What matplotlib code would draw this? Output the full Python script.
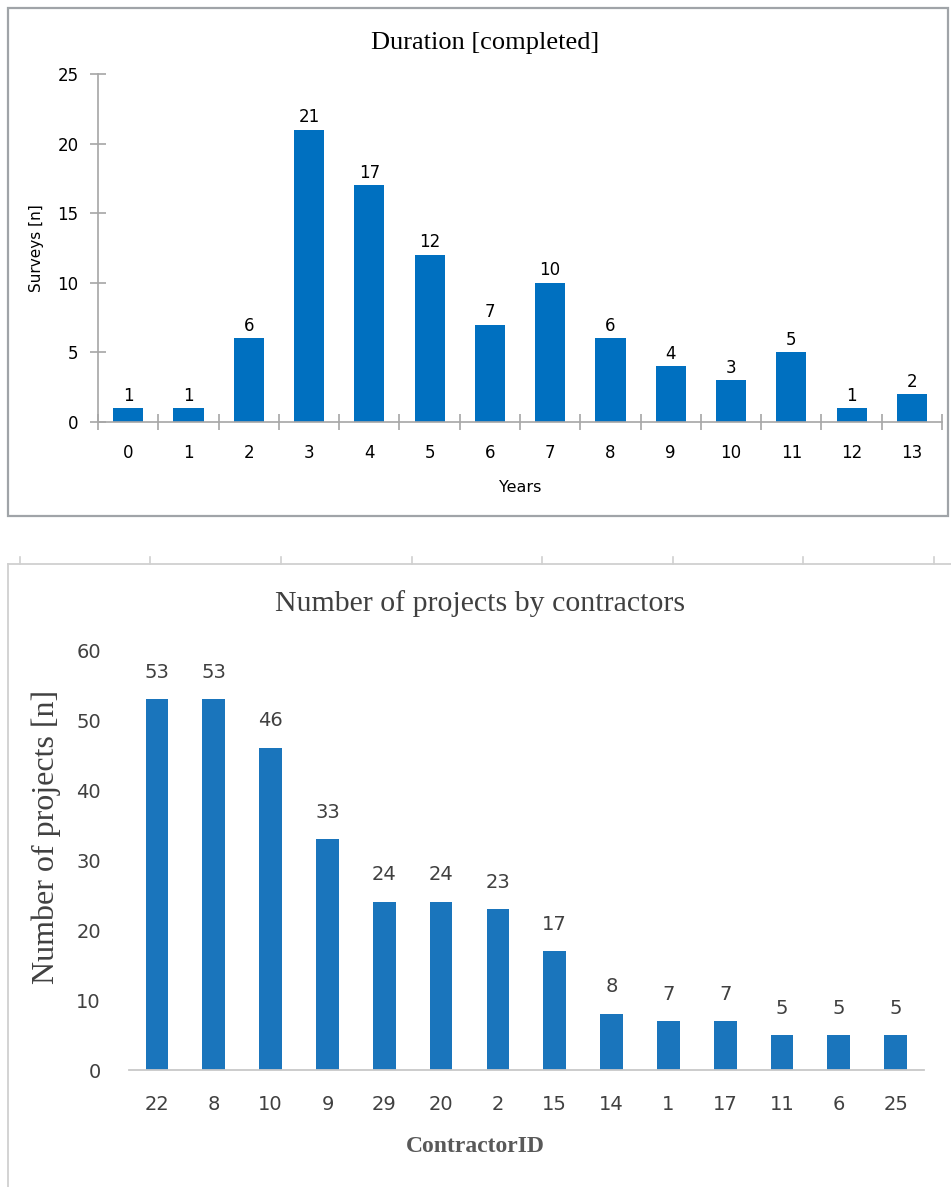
import matplotlib.pyplot as plt
from matplotlib.lines import Line2D
from matplotlib.patches import Rectangle

# top chart: duration of completed surveys
years = list(range(14))
surveys = [1, 1, 6, 21, 17, 12, 7, 10, 6, 4, 3, 5, 1, 2]

# bottom chart: projects per contractor
contractor_ids = ['22', '8', '10', '9', '29', '20', '2', '15', '14', '1', '17', '11', '6', '25']
projects = [53, 53, 46, 33, 24, 24, 23, 17, 8, 7, 7, 5, 5, 5]

W, H = 951, 1187
fig = plt.figure(figsize=(W / 100, H / 100), dpi=100)

def fx(px):
    return px / W

def fy(py):
    return 1 - py / H

grey = '#a6a6a6'
serif = 'Liberation Serif'

# frame around the top chart
fig.add_artist(Rectangle((fx(8), fy(516)), fx(940), (508) / H, fill=False,
                         edgecolor='#a0a4a8', linewidth=1.6, transform=fig.transFigure))

# bottom panel frame (top + left) with stray ticks from the cut-off chart above
fig.add_artist(Line2D([fx(8), 1], [fy(564), fy(564)], color='#d0d0d0', lw=1.3,
                      transform=fig.transFigure))
fig.add_artist(Line2D([fx(8), fx(8)], [fy(564), 0], color='#d0d0d0', lw=1.3,
                      transform=fig.transFigure))
for tx in [20, 150, 281, 412, 542, 673, 803, 934]:
    fig.add_artist(Line2D([fx(tx), fx(tx)], [fy(557), fy(564)], color='#d0d0d0', lw=1.2,
                          transform=fig.transFigure))

# ---------------- top chart ----------------
ax1 = fig.add_axes([fx(98), fy(422), fx(942 - 98), (422 - 74) / H])
ax1.bar(years, surveys, width=0.5, color='#0070c0')
ax1.set_xlim(-0.5, 13.5)
ax1.set_ylim(0, 25)
ax1.set_yticks([0, 5, 10, 15, 20, 25])
ax1.set_xticks(years)
ax1.set_xticks([x - 0.5 for x in years] + [13.5], minor=True)
for s in ['top', 'right']:
    ax1.spines[s].set_visible(False)
for s in ['left', 'bottom']:
    ax1.spines[s].set_color(grey)
    ax1.spines[s].set_linewidth(1.2)
ax1.tick_params(axis='x', which='major', length=0, pad=16, labelsize=12)
ax1.tick_params(axis='x', which='minor', direction='inout', length=12, color=grey, width=1.2)
ax1.tick_params(axis='y', direction='inout', length=12, color=grey, width=1.2, pad=8,
                labelsize=12)
for i, v in enumerate(surveys):
    ax1.text(years[i], v + 0.25, str(v), ha='center', va='bottom', fontsize=12)
fig.text(fx(485), fy(43), 'Duration [completed]', fontsize=19, family=serif,
         ha='center', va='center')
ax1.set_ylabel('Surveys [n]', fontsize=11, labelpad=10)
ax1.set_xlabel('Years', fontsize=11.5, labelpad=13)

# ---------------- bottom chart ----------------
dark = '#404040'
ax2 = fig.add_axes([fx(128.6), fy(1070), fx(924 - 128.6), (1070 - 650) / H])
x2 = list(range(len(projects)))
ax2.bar(x2, projects, width=0.4, color='#1a75bc')
ax2.set_xlim(-0.5, 13.5)
ax2.set_ylim(0, 60)
ax2.set_yticks([0, 10, 20, 30, 40, 50, 60])
ax2.set_xticks(x2)
ax2.set_xticklabels(contractor_ids)
for s in ['top', 'right', 'left']:
    ax2.spines[s].set_visible(False)
ax2.spines['bottom'].set_color('#c8c8c8')
ax2.spines['bottom'].set_linewidth(1.3)
ax2.tick_params(axis='x', length=0, pad=18, labelsize=14, labelcolor=dark)
ax2.tick_params(axis='y', length=0, pad=20, labelsize=14, labelcolor=dark)
for i, v in enumerate(projects):
    ax2.text(x2[i], v + 2.5, str(v), ha='center', va='bottom', fontsize=14, color=dark)
fig.text(fx(480), fy(604), 'Number of projects by contractors', fontsize=21.5,
         family=serif, color=dark, ha='center', va='center')
fig.text(fx(46), fy(837), 'Number of projects [n]', fontsize=23, family=serif,
         color=dark, rotation=90, ha='center', va='center')
fig.text(fx(475), fy(1146), 'ContractorID', fontsize=17, family=serif,
         fontweight='bold', color='#595959', ha='center', va='center')

fig.savefig('out.png', dpi=100)
